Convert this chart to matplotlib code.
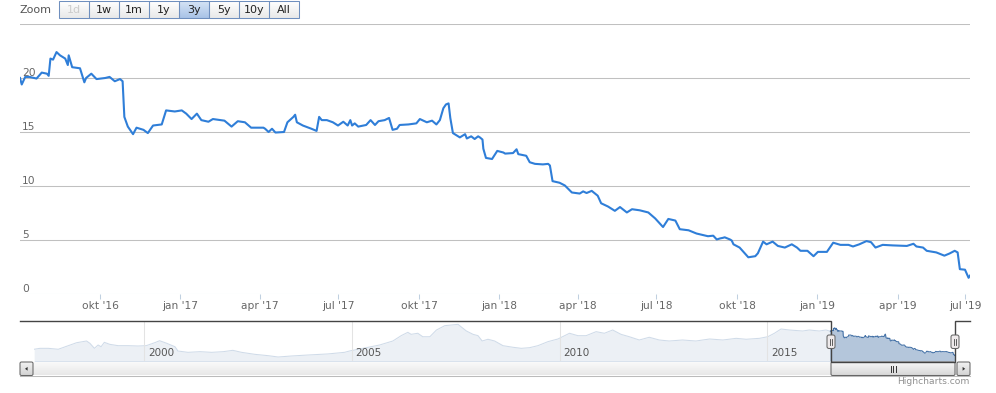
import numpy as np
import pandas as pd
import matplotlib
matplotlib.use("Agg")
import matplotlib.pyplot as plt
import matplotlib.dates as mdates
from matplotlib.patches import FancyBboxPatch, Rectangle, Polygon
from matplotlib.colors import LinearSegmentedColormap

# main series (3y window)
dates = ['2016-07-01', '2016-07-03', '2016-07-07', '2016-07-12', '2016-07-20', '2016-07-26',
         '2016-08-01', '2016-08-03', '2016-08-05', '2016-08-08', '2016-08-12', '2016-08-16',
         '2016-08-22', '2016-08-25', '2016-08-26', '2016-08-30', '2016-09-08', '2016-09-13',
         '2016-09-15', '2016-09-21', '2016-09-27', '2016-10-07', '2016-10-12', '2016-10-18',
         '2016-10-24', '2016-10-27', '2016-10-29', '2016-11-02', '2016-11-08', '2016-11-12',
         '2016-11-20', '2016-11-25', '2016-12-01', '2016-12-11', '2016-12-16', '2016-12-26',
         '2017-01-03', '2017-01-08', '2017-01-14', '2017-01-20', '2017-01-25', '2017-02-02',
         '2017-02-07', '2017-02-20', '2017-02-28', '2017-03-07', '2017-03-15', '2017-03-22',
         '2017-03-26', '2017-04-05', '2017-04-07', '2017-04-11', '2017-04-15', '2017-04-19',
         '2017-04-29', '2017-05-03', '2017-05-10', '2017-05-12', '2017-05-14', '2017-05-21',
         '2017-05-31', '2017-06-06', '2017-06-09', '2017-06-12', '2017-06-18', '2017-06-25',
         '2017-07-01', '2017-07-07', '2017-07-12', '2017-07-15', '2017-07-17', '2017-07-20',
         '2017-07-24', '2017-08-02', '2017-08-07', '2017-08-12', '2017-08-16', '2017-08-23',
         '2017-08-28', '2017-09-01', '2017-09-06', '2017-09-09', '2017-09-19', '2017-09-28',
         '2017-10-02', '2017-10-10', '2017-10-16', '2017-10-21', '2017-10-25', '2017-10-29',
         '2017-11-01', '2017-11-04', '2017-11-06', '2017-11-09', '2017-11-17', '2017-11-23',
         '2017-11-25', '2017-11-30', '2017-12-04', '2017-12-08', '2017-12-10', '2017-12-13',
         '2017-12-14', '2017-12-17', '2017-12-24', '2017-12-30', '2018-01-06', '2018-01-08',
         '2018-01-17', '2018-01-21', '2018-01-23', '2018-02-01', '2018-02-05', '2018-02-11',
         '2018-02-20', '2018-02-26', '2018-02-28', '2018-03-03', '2018-03-11', '2018-03-17',
         '2018-03-25', '2018-04-03', '2018-04-07', '2018-04-11', '2018-04-17', '2018-04-24',
         '2018-04-28', '2018-05-06', '2018-05-14', '2018-05-20', '2018-05-28', '2018-06-03',
         '2018-06-12', '2018-06-22', '2018-06-30', '2018-07-09', '2018-07-15', '2018-07-23',
         '2018-07-28', '2018-08-07', '2018-08-16', '2018-08-29', '2018-09-04', '2018-09-08',
         '2018-09-12', '2018-09-15', '2018-09-17', '2018-09-23', '2018-09-25', '2018-09-27',
         '2018-10-04', '2018-10-14', '2018-10-22', '2018-10-25', '2018-10-31', '2018-11-04',
         '2018-11-11', '2018-11-17', '2018-11-25', '2018-12-03', '2018-12-09', '2018-12-13',
         '2018-12-21', '2018-12-28', '2019-01-02', '2019-01-12', '2019-01-19', '2019-01-27',
         '2019-02-05', '2019-02-10', '2019-02-17', '2019-02-25', '2019-03-02', '2019-03-07',
         '2019-03-15', '2019-03-26', '2019-04-13', '2019-04-22', '2019-04-26', '2019-05-05',
         '2019-05-10', '2019-05-23', '2019-06-03', '2019-06-10', '2019-06-17', '2019-06-21',
         '2019-06-24', '2019-07-01', '2019-07-06', '2019-07-08']
values = [20.0, 19.4, 20.1, 20.1, 19.95, 20.5,
          20.4, 20.2, 21.8, 21.7, 22.4, 22.1,
          21.8, 21.2, 22.1, 21.0, 20.9, 19.6,
          20.0, 20.4, 19.9, 20.0, 20.1, 19.7,
          19.9, 19.7, 16.4, 15.5, 14.8, 15.4,
          15.2, 14.9, 15.6, 15.7, 17.0, 16.9,
          17.0, 16.7, 16.2, 16.7, 16.1, 15.95,
          16.2, 16.05, 15.5, 16.0, 15.9, 15.4,
          15.4, 15.4, 15.3, 15.0, 15.3, 14.95,
          15.0, 15.9, 16.4, 16.6, 15.9, 15.6,
          15.3, 15.1, 16.4, 16.1, 16.1, 15.9,
          15.6, 15.95, 15.6, 16.1, 15.6, 15.8,
          15.5, 15.65, 16.1, 15.65, 16.0, 16.1,
          16.3, 15.2, 15.3, 15.65, 15.7, 15.8,
          16.2, 15.9, 16.05, 15.7, 16.1, 17.2,
          17.55, 17.65, 16.3, 14.9, 14.5, 14.8,
          14.4, 14.6, 14.35, 14.6, 14.5, 14.3,
          13.45, 12.6, 12.5, 13.25, 13.1, 13.0,
          13.05, 13.4, 12.95, 12.8, 12.2, 12.05,
          12.0, 12.05, 11.9, 10.45, 10.3, 10.05,
          9.4, 9.3, 9.5, 9.35, 9.55, 9.1,
          8.4, 8.1, 7.7, 8.05, 7.55, 7.85,
          7.75, 7.55, 7.0, 6.2, 6.95, 6.8,
          6.0, 5.9, 5.6, 5.35, 5.4, 5.05,
          5.15, 5.2, 5.25, 5.05, 4.95, 4.6,
          4.3, 3.4, 3.5, 3.77, 4.85, 4.6,
          4.85, 4.45, 4.3, 4.6, 4.3, 4.0,
          4.0, 3.5, 3.9, 3.9, 4.75, 4.55,
          4.55, 4.4, 4.6, 4.9, 4.8, 4.3,
          4.55, 4.5, 4.45, 4.65, 4.4, 4.3,
          4.0, 3.85, 3.55, 3.75, 4.0, 3.85,
          2.3, 2.25, 1.5, 1.7]

# full history shown in the navigator (before the 3y window)
nav_years = [1997.36, 1997.5, 1997.7, 1997.94, 1998.18, 1998.38, 1998.62, 1998.70, 1998.81,
             1998.90, 1998.97, 1999.05, 1999.18, 1999.38, 1999.62, 1999.86, 2000.06, 2000.26,
             2000.38, 2000.55, 2000.75, 2000.82, 2001.06, 2001.35, 2001.63, 2001.91, 2002.14,
             2002.35, 2002.67, 2002.99, 2003.23, 2003.55, 2003.95, 2004.43, 2004.83, 2004.95,
             2005.27, 2005.67, 2005.99, 2006.19, 2006.35, 2006.43, 2006.59, 2006.71, 2006.88,
             2007.04, 2007.24, 2007.40, 2007.56, 2007.63, 2007.76, 2007.92, 2008.04, 2008.14,
             2008.28, 2008.44, 2008.64, 2008.88, 2009.08, 2009.28, 2009.48, 2009.72, 2009.96,
             2010.12, 2010.24, 2010.44, 2010.64, 2010.88, 2011.08, 2011.28, 2011.48, 2011.68,
             2011.92, 2012.16, 2012.40, 2012.64, 2012.96, 2013.28, 2013.61, 2013.93, 2014.25,
             2014.49, 2014.81, 2015.01, 2015.17, 2015.33, 2015.53, 2015.85, 2016.01, 2016.25,
             2016.41]
nav_values = [6.3, 7.0, 7.0, 6.3, 9.0, 11.2, 12.5, 10.8, 7.0,
              9.5, 8.2, 11.5, 10.0, 9.0, 9.0, 8.75, 9.0, 11.2,
              12.7, 10.8, 8.2, 5.0, 4.0, 4.5, 4.0, 4.5, 5.5,
              4.0, 2.5, 1.5, 0.5, 1.25, 2.0, 2.8, 4.0, 5.0,
              7.0, 9.5, 12.5, 16.5, 19.0, 17.5, 18.3, 15.7, 15.7,
              20.75, 24.0, 24.5, 25.0, 23.2, 20.0, 17.5, 16.5, 12.5,
              13.8, 12.5, 9.0, 7.8, 7.0, 7.5, 9.0, 12.0, 14.0,
              16.5, 18.3, 16.5, 16.5, 19.5, 18.3, 20.75, 17.5, 15.7,
              13.25, 15.3, 13.25, 12.5, 13.25, 12.5, 14.0, 13.25, 14.5,
              13.8, 14.5, 15.7, 18.3, 21.5, 20.75, 20.0, 20.75, 20.0,
              20.75]

tick_dates = ['2016-10-01', '2017-01-01', '2017-04-01', '2017-07-01', '2017-10-01', '2018-01-01',
              '2018-04-01', '2018-07-01', '2018-10-01', '2019-01-01', '2019-04-01', '2019-07-01']
tick_labels = ["okt '16", "jan '17", "apr '17", "jul '17", "okt '17", "jan '18",
               "apr '18", "jul '18", "okt '18", "jan '19", "apr '19", "jul '19"]
y_labels = [0, 5, 10, 15, 20]
y_grid = [5, 10, 15, 20, 25]
nav_label_years = [2000, 2005, 2010, 2015]
zoom_buttons = ['1d', '1w', '1m', '1y', '3y', '5y', '10y', 'All']
selected_button = '3y'
disabled_button = '1d'

# ordinal x axis (trading days evenly spaced, like highcharts stock)
ord_dates = ['2016-07-01'] + tick_dates + ['2019-07-08']
ord_pos = [0, 80, 160, 240, 318, 399, 479, 558, 636, 717, 797, 878, 945, 950]


def dnum(d):
    return mdates.date2num(pd.to_datetime(d).to_numpy())


def to_ord(d):
    return np.interp(dnum(d), dnum(ord_dates), ord_pos)


def year_num(y):
    y = np.asarray(y)
    base = pd.to_datetime([f"{int(v)}-01-01" for v in y])
    return mdates.date2num(base.to_numpy()) + (y - y.astype(int)) * 365.25


W, H = 996, 393
fig = plt.figure(figsize=(W / 100, H / 100), dpi=100)

line_col = '#2f7ed8'
txt_col = '#666666'

# ---- main chart
ax = fig.add_axes([20 / W, (H - 294) / H, 950 / W, 270 / H])
ax.set_xlim(0, 950)
ax.set_ylim(0, 25)
for s in ax.spines.values():
    s.set_visible(False)
for g in y_grid:
    ax.axhline(g, color='#c0c0c0', lw=0.75, zorder=1)
ax.axhline(0, color='#c0d0e0', lw=0.75, zorder=1)
ax.plot(to_ord(dates), values, color=line_col, lw=1.5, zorder=3, solid_joinstyle='round')
ax.set_yticks([])
ax.set_xticks(to_ord(tick_dates))
ax.set_xticklabels(tick_labels)
ax.tick_params(axis='x', length=3.6, width=0.75, color='#c0d0e0', labelcolor=txt_col,
               labelsize=7.7, pad=1.5)
for v in y_labels:
    ax.annotate(str(v), xy=(0, v), xycoords=('axes fraction', 'data'), xytext=(2, 2),
                textcoords='offset pixels', ha='left', va='baseline', fontsize=7.7,
                color=txt_col)

# ---- navigator
sel_start = dnum('2016-07-01')
sel_end = dnum('2019-07-08')
nav_x = np.concatenate([year_num(nav_years), dnum(dates)])
nav_y = np.concatenate([nav_values, values])
nlo, nhi = -2.5, 27.5
nav = fig.add_axes([34 / W, (H - 361) / H, 921 / W, 40 / H])
nav.set_xlim(year_num([1997.356])[0], sel_end)
nav.set_ylim(nlo, nhi)
nav.axis('off')
nav.fill_between(nav_x, nav_y, nlo, color='#4572a7', alpha=0.4, lw=0, zorder=2)
nav.plot(nav_x, nav_y, color='#4572a7', lw=0.75, zorder=3)
nav.add_patch(Rectangle((nav.get_xlim()[0], nlo), sel_start - nav.get_xlim()[0], nhi - nlo,
                        fc='white', alpha=0.75, lw=0, zorder=4))
for yr in nav_label_years:
    xx = year_num([yr])[0]
    nav.axvline(xx, color='#e3e3e3', lw=0.75, zorder=5)
    nav.annotate(str(yr), xy=(xx, 0.21), xycoords=('data', 'axes fraction'), xytext=(4, 0),
                 textcoords='offset pixels', ha='left', va='center', fontsize=7.5,
                 color='#555555', zorder=6)

# ---- overlay: range selector, scrollbar, outline, credits
ov = fig.add_axes([0, 0, 1, 1], zorder=10)
ov.patch.set_alpha(0)
ov.axis('off')


def grad_box(x0, y0, x1, y1, c_top, c_bot, edge=None, r=0.0, lw=0.75):
    cmap = LinearSegmentedColormap.from_list('g', [c_top, c_bot])
    im = ov.imshow(np.linspace(0, 1, 32).reshape(-1, 1), cmap=cmap, aspect='auto',
                   extent=(x0, x1, y1, y0), origin='upper', interpolation='bilinear', zorder=2)
    box = FancyBboxPatch((x0, y0), x1 - x0, y1 - y0,
                         boxstyle=f"round,pad=0,rounding_size={r}" if r else "square,pad=0",
                         fc='none', ec=edge if edge else 'none', lw=lw, zorder=3)
    ov.add_patch(box)
    im.set_clip_path(box)
    return box


ov.text(20, 10, 'Zoom', ha='left', va='center', fontsize=8, color='#555555')
for i, lab in enumerate(zoom_buttons):
    x0 = 59 + 30 * i
    if lab == selected_button:
        grad_box(x0, 1, x0 + 29.5, 18, '#d6e4f6', '#a9c3e6', edge='#6f8fbe')
    else:
        grad_box(x0, 1, x0 + 29.5, 18, '#ffffff', '#e9e9e9', edge='#6f8fbe')
    col = '#cccccc' if lab == disabled_button else '#222222'
    ov.text(x0 + 15, 10, lab, ha='center', va='center', fontsize=8, color=col, zorder=4)

# scrollbar track
grad_box(33, 362, 957, 375.5, '#fbfbfb', '#e8e8e8')
ov.plot([20, 970], [375.6, 375.6], color='#bbbbbb', lw=0.75, zorder=3)
# scrollbar buttons
for bx0, pts in [(20, [(25, 368.8), (27.6, 366.9), (27.6, 370.7)]),
                 (957, [(965.2, 368.8), (962.6, 366.9), (962.6, 370.7)])]:
    grad_box(bx0, 362, bx0 + 13, 375.5, '#f4f4f4', '#d4d4d4', edge='#666666', r=1.5)
    ov.add_patch(Polygon(pts, closed=True, fc='#333333', ec='none', zorder=4))
# scrollbar thumb
sx0, sx1 = 831, 955
grad_box(sx0, 362, sx1, 375.5, '#fafafa', '#d8d8d8', edge='#666666', r=1.5)
for gx in (890.8, 893.3, 895.8):
    ov.plot([gx, gx], [366, 371.5], color='#333333', lw=0.7, zorder=4)

# navigator outline
ov.plot([20, sx0, sx0, sx1, sx1, 970], [321, 321, 361.5, 361.5, 321, 321],
        color='#444444', lw=1.0, zorder=5, solid_joinstyle='miter')
# navigator handles
for hx in (sx0, sx1):
    ov.add_patch(FancyBboxPatch((hx - 4, 335), 8, 13.5, boxstyle="round,pad=0,rounding_size=2",
                                fc='#eeeaeb', ec='#666666', lw=0.75, zorder=6))
    for dx in (-1.3, 1.3):
        ov.plot([hx + dx, hx + dx], [338.5, 345], color='#444444', lw=0.6, zorder=7)

ov.text(969, 382, 'Highcharts.com', ha='right', va='center', fontsize=6.6, color='#909090')

ov.set_xlim(0, W)
ov.set_ylim(H, 0)

fig.savefig('out.png', dpi=100)
